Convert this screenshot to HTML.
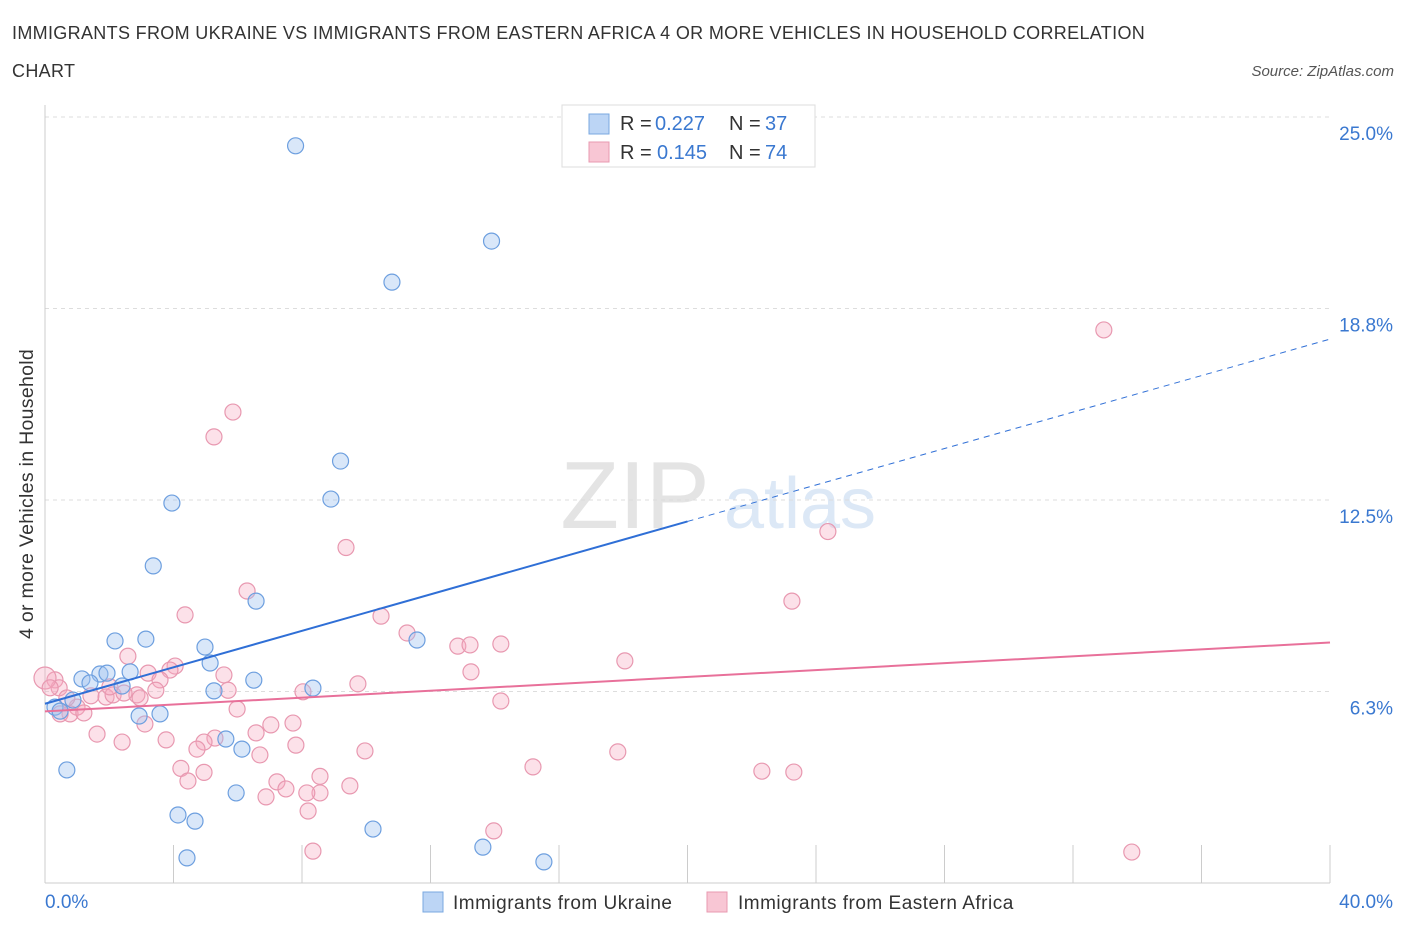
<!DOCTYPE html>
<html><head><meta charset="utf-8">
<style>
body{margin:0;background:#fff;font-family:"Liberation Sans",sans-serif;}
svg text{font-family:"Liberation Sans",sans-serif;}
</style></head>
<body>
<svg id="chart" width="1406" height="930" xmlns="http://www.w3.org/2000/svg">
<text x="12" y="39" font-size="18" fill="#333" letter-spacing="0.33">IMMIGRANTS FROM UKRAINE VS IMMIGRANTS FROM EASTERN AFRICA 4 OR MORE VEHICLES IN HOUSEHOLD CORRELATION</text>
<text x="12" y="77" font-size="18" fill="#333" letter-spacing="0.33">CHART</text>
<text x="1394" y="76" font-size="15" fill="#555" font-style="italic" text-anchor="end">Source: ZipAtlas.com</text>
<text x="635" y="528" font-size="96" fill="#e4e4e4" font-family="Liberation Serif" text-anchor="middle">ZIP</text>
<text x="800" y="528" font-size="72" fill="#dce8f6" text-anchor="middle">atlas</text>
<g id="grid"></g>
<g id="axes"></g>
<g id="pts"></g>
<g id="lines"></g>
<text x="33" y="494" font-size="19.5" fill="#333" text-anchor="middle" letter-spacing="0.3" transform="rotate(-90 33 494)">4 or more Vehicles in Household</text>
<text x="45" y="908" font-size="19" fill="#3a78d0">0.0%</text>
<text x="1393" y="908" font-size="19" fill="#3a78d0" text-anchor="end">40.0%</text>
<g>
<rect x="562" y="105" width="253" height="62" fill="#fff" stroke="#ddd"/>
<rect x="589" y="114" width="20" height="20" fill="#bcd5f5" stroke="#7aa8e0"/>
<rect x="589" y="142" width="20" height="20" fill="#f8c6d4" stroke="#e89ab0"/>
<text x="620" y="130" font-size="20" fill="#333">R = </text><text x="655" y="130" font-size="20" fill="#3a78d0">0.227</text>
<text x="729" y="130" font-size="20" fill="#333">N = </text><text x="765" y="130" font-size="20" fill="#3a78d0">37</text>
<text x="620" y="159" font-size="20" fill="#333">R = </text><text x="657" y="159" font-size="20" fill="#3a78d0">0.145</text>
<text x="729" y="159" font-size="20" fill="#333">N = </text><text x="765" y="159" font-size="20" fill="#3a78d0">74</text>
</g>
<g>
<rect x="423" y="892" width="20" height="20" fill="#bcd5f5" stroke="#7aa8e0"/>
<text x="453" y="909" font-size="19" fill="#333" letter-spacing="0.5">Immigrants from Ukraine</text>
<rect x="707" y="892" width="20" height="20" fill="#f8c6d4" stroke="#e89ab0"/>
<text x="738" y="909" font-size="19" fill="#333" letter-spacing="0.5">Immigrants from Eastern Africa</text>
</g>
</svg>
<script>
const yTicks=[6.25,12.5,18.75,25];
const yTickLabels=["6.3%","12.5%","18.8%","25.0%"];
const blueX=[7.8,13.9,10.8,9.2,8.9,3.95,3.37,6.57,11.58,2.18,3.14,4.98,5.14,2.65,1.71,1.93,1.15,1.4,2.4,6.5,5.26,8.34,0.87,0.31,0.47,3.58,2.93,5.63,6.13,0.68,5.95,4.14,4.67,10.21,4.42,13.63,15.53];
const blueY=[24.06,20.95,19.61,13.77,12.53,12.4,10.35,9.2,7.93,7.9,7.96,7.7,7.18,6.89,6.82,6.85,6.66,6.53,6.43,6.62,6.27,6.36,5.97,5.74,5.61,5.52,5.45,4.7,4.37,3.69,2.94,2.22,2.02,1.76,0.82,1.17,0.69];
const pinkX=[32.96,5.85,5.26,9.37,24.37,6.29,4.36,23.25,10.46,11.27,12.85,13.23,14.19,18.05,2.58,4.05,3.21,3.89,5.57,3.58,13.26,9.74,8.03,0.31,0.44,1.43,1.9,2.12,2.86,2.46,3.45,5.7,14.19,5.98,0.996,0.78,1.21,3.11,7.03,7.72,6.57,1.62,5.29,3.77,2.4,4.95,7.81,4.73,9.96,17.83,6.69,4.23,4.95,8.56,15.19,22.315,23.31,7.22,4.45,7.5,9.49,6.88,8.56,8.15,8.19,13.97,8.34,33.83,0.0,0.16,0.68,0.47,2.96,2.02];
const pinkY=[18.05,15.37,14.56,10.95,11.47,9.53,8.75,9.2,8.71,8.16,7.73,7.77,7.8,7.25,7.4,7.08,6.85,6.95,6.79,6.63,6.89,6.5,6.24,6.63,6.37,6.11,6.07,6.14,6.14,6.2,6.29,6.29,5.94,5.68,5.74,5.52,5.55,5.19,5.16,5.22,4.9,4.86,4.73,4.67,4.6,4.6,4.5,4.37,4.31,4.28,4.18,3.74,3.61,3.48,3.79,3.65,3.62,3.3,3.33,3.07,3.17,2.81,2.94,2.94,2.35,1.7,1.04,1.01,6.69,6.37,6.04,5.52,6.04,6.4];
const X=v=>45+v/40*1285, Y=v=>883-v*30.64;
const NS="http://www.w3.org/2000/svg";
function mk(tag,attrs,parent){const e=document.createElementNS(NS,tag);for(const k in attrs)e.setAttribute(k,attrs[k]);parent.appendChild(e);return e;}
const grid=document.getElementById('grid'),axes=document.getElementById('axes'),pts=document.getElementById('pts'),lines=document.getElementById('lines');
yTicks.forEach((t,i)=>{
 const l=mk('line',{x1:45,x2:1330,y1:Y(t),y2:Y(t),stroke:'#ddd','stroke-dasharray':'4,4'},grid);
 
 
 const tx=mk('text',{x:1393,y:Y(t)+23,'font-size':19,fill:'#3a78d0','text-anchor':'end'},grid);
 tx.textContent=yTickLabels[i];
 
 
});
const ax=mk('line',{x1:45,x2:1330,y1:883,y2:883,stroke:'#ccc'},axes);


const ay=mk('line',{x1:45,x2:45,y1:105,y2:883,stroke:'#ccc'},axes);


for(let i=0;i<=10;i++){
 const tk=mk('line',{x1:X(i*4),x2:X(i*4),y1:845,y2:883,stroke:'#ccc'},axes);
 
 
}
pinkX.forEach((v,i)=>{
 const c=mk('circle',{cx:X(v),cy:Y(pinkY[i]),r:i==68?11:8,fill:'rgba(245,170,192,0.35)',stroke:'#e898b0','stroke-width':1.2},pts);
 
 
});
blueX.forEach((v,i)=>{
 const c=mk('circle',{cx:X(v),cy:Y(blueY[i]),r:8,fill:'rgba(160,195,240,0.4)',stroke:'#6d9fdf','stroke-width':1.2},pts);
 
 
});
const b1=mk('line',{x1:X(0),y1:Y(5.85),x2:X(20),y2:Y(11.8),stroke:'#2f6fd6','stroke-width':2},lines);


const b2=mk('line',{x1:X(20),y1:Y(11.8),x2:X(40),y2:Y(17.75),stroke:'#2f6fd6','stroke-width':1,'stroke-dasharray':'6,5'},lines);


const p1=mk('line',{x1:X(0),y1:Y(5.6),x2:X(40),y2:Y(7.85),stroke:'#e8709a','stroke-width':2},lines);


</script>
</body></html>
